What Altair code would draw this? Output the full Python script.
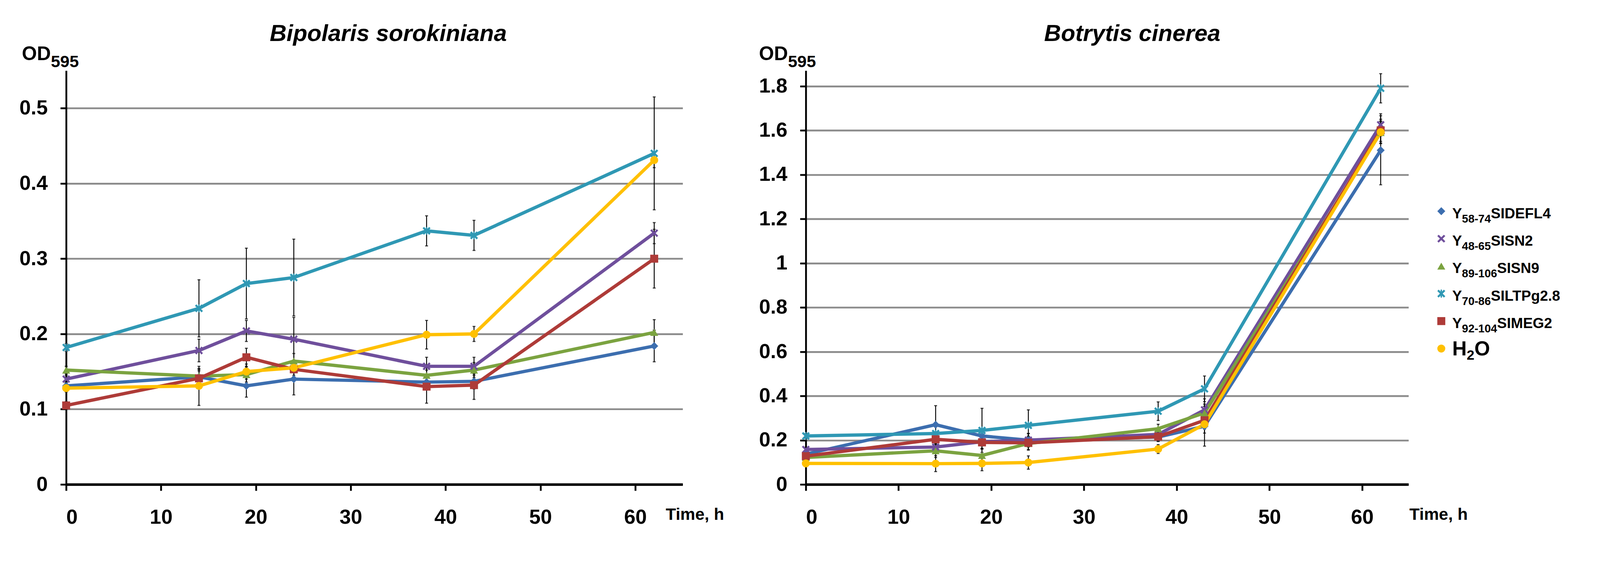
import altair as alt
import pandas as pd

times = [0, 14, 19, 24, 38, 43, 62]
legend_prefix = ["Y", "Y", "Y", "Y", "Y", "H"]
legend_sub = ["58-74", "48-65", "89-106", "70-86", "92-104", "2"]
legend_suffix = ["SIDEFL4", "SISN2", "SISN9", "SILTPg2.8", "SIMEG2", "O"]
series_names = [p + s + q for p, s, q in zip(legend_prefix, legend_sub, legend_suffix)]
colors = ["#3C6EAF", "#6F4F9C", "#7BA340", "#2F98B4", "#AE3B38", "#FFC000"]

# Bipolaris sorokiniana (OD595)
bs_values = [
    [0.131, 0.143, 0.131, 0.140, 0.136, 0.137, 0.184],
    [0.140, 0.178, 0.204, 0.193, 0.157, 0.157, 0.334],
    [0.152, 0.144, 0.146, 0.164, 0.145, 0.152, 0.202],
    [0.182, 0.234, 0.267, 0.275, 0.337, 0.331, 0.440],
    [0.105, 0.141, 0.169, 0.153, 0.130, 0.132, 0.300],
    [0.128, 0.131, 0.150, 0.155, 0.199, 0.200, 0.431],
]
bs_errors = [
    [0.005, 0.010, 0.015, 0.021, 0.010, 0.010, 0.021],
    [0.005, 0.015, 0.014, 0.029, 0.012, 0.012, 0.014],
    [0.005, 0.010, 0.010, 0.010, 0.010, 0.010, 0.017],
    [0.005, 0.038, 0.047, 0.051, 0.020, 0.020, 0.075],
    [0.005, 0.010, 0.012, 0.010, 0.022, 0.019, 0.039],
    [0.005, 0.026, 0.010, 0.010, 0.019, 0.010, 0.010],
]

# Botrytis cinerea (OD595)
bc_values = [
    [0.137, 0.270, 0.219, 0.200, 0.214, 0.263, 1.510],
    [0.158, 0.169, 0.193, 0.200, 0.226, 0.337, 1.625],
    [0.122, 0.152, 0.131, 0.185, 0.252, 0.323, 1.590],
    [0.219, 0.230, 0.244, 0.267, 0.331, 0.432, 1.790],
    [0.128, 0.204, 0.190, 0.188, 0.216, 0.290, 1.600],
    [0.095, 0.094, 0.095, 0.099, 0.160, 0.272, 1.592],
]
bc_errors = [
    [0.010, 0.086, 0.030, 0.030, 0.020, 0.090, 0.156],
    [0.010, 0.030, 0.030, 0.030, 0.020, 0.050, 0.050],
    [0.010, 0.030, 0.030, 0.030, 0.020, 0.040, 0.050],
    [0.010, 0.030, 0.100, 0.070, 0.042, 0.058, 0.066],
    [0.010, 0.030, 0.030, 0.030, 0.020, 0.040, 0.050],
    [0.010, 0.036, 0.033, 0.030, 0.020, 0.040, 0.050],
]

x_ticks = [0, 10, 20, 30, 40, 50, 60]
bs_y_ticks = [0, 0.1, 0.2, 0.3, 0.4, 0.5]
bc_y_ticks = [0, 0.2, 0.4, 0.6, 0.8, 1.0, 1.2, 1.4, 1.6, 1.8]

X_PATH = ("M-1,-0.65L-0.35,0L-1,0.65L-0.65,1L0,0.35L0.65,1L1,0.65L0.35,0"
          "L1,-0.65L0.65,-1L0,-0.35L-0.65,-1Z")
STAR_PATH = X_PATH + "M-0.17,-1L-0.17,1L0.17,1L0.17,-1Z"
shapes = ["diamond", X_PATH, "triangle-up", STAR_PATH, "square", "circle"]

FONT = "Liberation Sans"
PLOT_H = 1136

fill_scale = alt.Scale(domain=series_names, range=colors)
shape_scale = alt.Scale(domain=series_names, range=shapes)

# approximate advance widths (em) of the bold sans font, for legend subscript layout
GLYPH_W = {"Y": 0.667, "H": 0.722, "S": 0.667, "I": 0.278, "D": 0.722, "E": 0.667,
           "F": 0.611, "L": 0.611, "N": 0.722, "T": 0.611, "P": 0.667, "g": 0.611,
           "M": 0.833, "G": 0.778, "O": 0.778, ".": 0.278, "-": 0.333}


def text_w(s, size):
    return sum(GLYPH_W.get(c, 0.556) for c in s) * size


def make_df(values, errors):
    rows = []
    for si, name in enumerate(series_names):
        for ti, t in enumerate(times):
            v = values[si][ti]
            e = errors[si][ti]
            rows.append({"series": name, "time": t, "value": v,
                         "lo": v - e, "hi": v + e})
    return pd.DataFrame(rows)


def legend_layers():
    rows = []
    for name, p, s, q in zip(series_names, legend_prefix, legend_sub, legend_suffix):
        big = 55 if p == "H" else 40
        small = 38 if p == "H" else 31
        x0 = 30
        x1 = x0 + text_w(p, big)
        x2 = x1 + text_w(s, small)
        rows.append({"series": name, "prefix": p, "sub": s, "suffix": q,
                     "big": big, "small": small, "sx": 0, "x0": x0, "x1": x1, "x2": x2})
    ldf = pd.DataFrame(rows)
    lx = alt.Scale(domain=[0, 400], range=[1744, 2144])
    ly = alt.Y("series:N", sort=series_names, axis=None,
               scale=alt.Scale(type="point", range=[386, 763], padding=0))
    base = alt.Chart(ldf)
    sym = base.mark_point(filled=True, opacity=1, size=480, strokeWidth=0).encode(
        x=alt.X("sx:Q", scale=lx, axis=None), y=ly,
        fill=alt.Fill("series:N", scale=fill_scale, legend=None),
        shape=alt.Shape("series:N", scale=shape_scale, legend=None))
    tkw = dict(font=FONT, fontWeight="bold", color="black", align="left",
               baseline="alphabetic")
    t_pre = base.mark_text(dy=19, **tkw).encode(
        x=alt.X("x0:Q", scale=lx, axis=None), y=ly, text="prefix:N",
        size=alt.Size("big:Q", scale=None))
    t_sub = base.mark_text(dy=31, **tkw).encode(
        x=alt.X("x1:Q", scale=lx, axis=None), y=ly, text="sub:N",
        size=alt.Size("small:Q", scale=None))
    t_suf = base.mark_text(dy=19, **tkw).encode(
        x=alt.X("x2:Q", scale=lx, axis=None), y=ly, text="suffix:N",
        size=alt.Size("big:Q", scale=None))
    return alt.layer(sym, t_pre, t_sub, t_suf)


def panel(df, title, ymax, yvals, width, title_dx, xtitle_x, od_x, with_legend):
    xs = alt.Scale(domain=[0, 65], nice=False)
    ys = alt.Scale(domain=[0, ymax], nice=False)
    xaxis = alt.Axis(values=x_ticks, format="d", title="Time, h",
                     titleAngle=0, titleAlign="left", titleBaseline="middle",
                     titleX=xtitle_x, titleY=83, titleFont=FONT,
                     titleFontSize=46, titleFontWeight="bold", titleColor="black",
                     labelFont=FONT, labelFontSize=56, labelFontWeight="bold",
                     labelColor="black", labelPadding=46, tickSize=17,
                     tickWidth=5, tickColor="black", domainColor="black",
                     domainWidth=7, grid=False)
    yaxis = alt.Axis(values=yvals, format="~g", title="OD",
                     titleAngle=0, titleAlign="left", titleBaseline="alphabetic",
                     titleX=od_x, titleY=-29, titleFont=FONT, titleFontSize=53,
                     titleFontWeight="bold", titleColor="black",
                     labelFont=FONT, labelFontSize=56, labelFontWeight="bold",
                     labelColor="black", labelPadding=35, tickSize=16,
                     tickWidth=5, tickColor="black", domainColor="black",
                     domainWidth=5, grid=True, gridColor="#8c8c8c", gridWidth=5)
    base = alt.Chart(df)
    x = alt.X("time:Q", scale=xs, axis=xaxis)
    bars = base.mark_rule(color="black", strokeWidth=2.5).encode(
        x=x, y=alt.Y("lo:Q", scale=ys, axis=yaxis), y2="hi:Q")
    cap_lo = base.mark_tick(color="black", orient="horizontal", size=8,
                            thickness=3).encode(
        x=x, y=alt.Y("lo:Q", scale=ys, axis=yaxis))
    cap_hi = base.mark_tick(color="black", orient="horizontal", size=8,
                            thickness=3).encode(
        x=x, y=alt.Y("hi:Q", scale=ys, axis=yaxis))
    lines = base.mark_line(strokeWidth=9).encode(
        x=x, y=alt.Y("value:Q", scale=ys, axis=yaxis),
        color=alt.Color("series:N", scale=fill_scale, legend=None),
        detail="series:N", order="time:Q")
    pts = base.mark_point(filled=True, opacity=1, size=480, strokeWidth=0).encode(
        x=x, y=alt.Y("value:Q", scale=ys, axis=yaxis),
        fill=alt.Fill("series:N", scale=fill_scale, legend=None),
        shape=alt.Shape("series:N", scale=shape_scale, legend=None))
    sub = alt.Chart(pd.DataFrame({"t": ["595"]})).mark_text(
        font=FONT, fontSize=46, fontWeight="bold", color="black",
        align="left", baseline="alphabetic").encode(
        text="t:N", x=alt.value(od_x + 80), y=alt.value(-9))
    main = alt.layer(bars, cap_lo, cap_hi, lines, pts, sub)
    if with_legend:
        main = alt.layer(main, legend_layers()).resolve_scale(
            x="independent", y="independent")
    return main.properties(
        width=width, height=PLOT_H,
        title=alt.TitleParams(title, font=FONT, fontSize=64, fontStyle="italic",
                              fontWeight="bold", color="black", anchor="middle",
                              frame="group", dx=title_dx, offset=-3))


left = panel(make_df(bs_values, bs_errors), "Bipolaris sorokiniana", 0.55,
             bs_y_ticks, 1692, 38, 1645, -122, False)
right = panel(make_df(bc_values, bc_errors), "Botrytis cinerea", 1.87,
              bc_y_ticks, 1654, 69, 1656, -129, True)

chart = alt.hconcat(left, right, spacing=95).resolve_scale(
    fill="shared", shape="shared", color="shared"
).properties(
    padding={"left": 44, "top": 0, "right": 100, "bottom": 90},
    background="white",
).configure_view(stroke=None)

chart.save("out.html", embed_options={"renderer": "svg", "actions": False})
